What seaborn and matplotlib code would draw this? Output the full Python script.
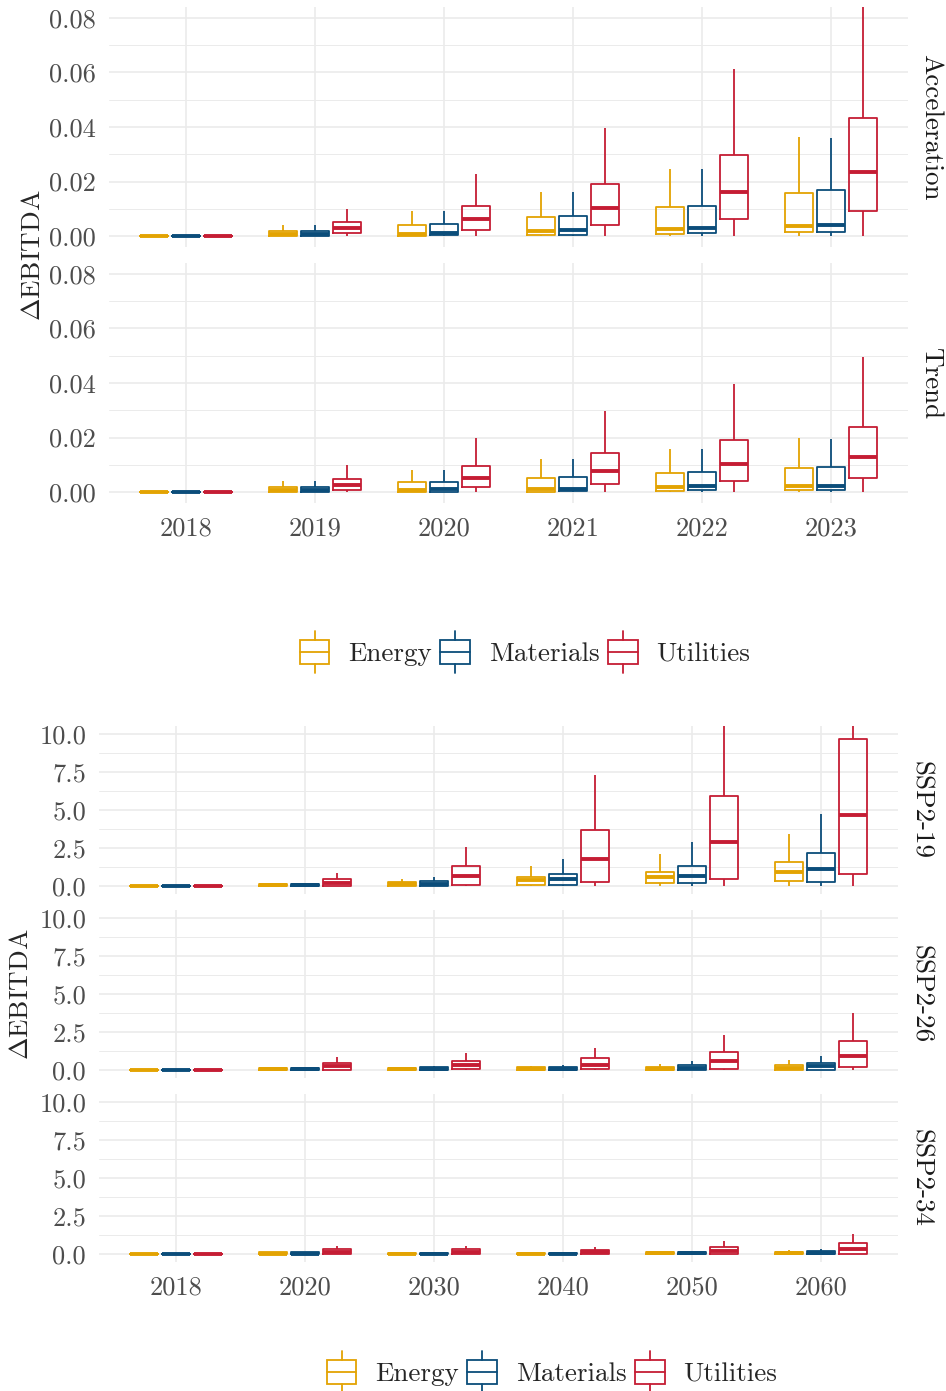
import numpy as np
import pandas as pd
import seaborn as sns
import matplotlib.pyplot as plt
from matplotlib.patches import Rectangle
from matplotlib.lines import Line2D
from matplotlib.legend_handler import HandlerBase

# years / sectors
years_top = ["2018", "2019", "2020", "2021", "2022", "2023"]
years_bot = ["2018", "2020", "2030", "2040", "2050", "2060"]
sectors = ["Energy", "Materials", "Utilities"]
colors = ["#E3A302", "#0B4D7A", "#C51D34"]

# box stats per year: [low whisker, q1, median, q3, high whisker]
acc_energy = [[0, 0, 0, 0.0001, 0.0002], [0, 0.0002, 0.0006, 0.0018, 0.0039], [0, 0.0002, 0.0009, 0.0040, 0.0092],
              [0, 0.0005, 0.0018, 0.0070, 0.0160], [0, 0.0009, 0.0027, 0.0106, 0.0247], [0, 0.0015, 0.0038, 0.0158, 0.0363]]
acc_materials = [[0, 0, 0, 0.0001, 0.0002], [0, 0.0002, 0.0008, 0.0019, 0.0039], [0, 0.0004, 0.0012, 0.0043, 0.0092],
                 [0, 0.0005, 0.0021, 0.0073, 0.0160], [0, 0.0011, 0.0028, 0.0110, 0.0245], [0, 0.0015, 0.0040, 0.0168, 0.0360]]
acc_utilities = [[0, 0, 0, 0.0001, 0.0002], [0, 0.0010, 0.0028, 0.0050, 0.0099], [0, 0.0022, 0.0061, 0.0111, 0.0229],
                 [0, 0.0039, 0.0104, 0.0192, 0.0396], [0, 0.0061, 0.0161, 0.0296, 0.0614], [0, 0.0092, 0.0236, 0.0433, 0.0950]]

trd_energy = [[0, 0, 0, 0.0001, 0.0002], [0, 0.0001, 0.0006, 0.0018, 0.0039], [0, 0.0001, 0.0009, 0.0036, 0.0080],
              [0, 0.0002, 0.0012, 0.0053, 0.0120], [0, 0.0004, 0.0018, 0.0070, 0.0159], [0, 0.0006, 0.0022, 0.0087, 0.0199]]
trd_materials = [[0, 0, 0, 0.0001, 0.0002], [0, 0.0001, 0.0009, 0.0018, 0.0039], [0, 0.0001, 0.0010, 0.0038, 0.0080],
                 [0, 0.0003, 0.0013, 0.0055, 0.0120], [0, 0.0006, 0.0021, 0.0073, 0.0159], [0, 0.0007, 0.0023, 0.0091, 0.0196]]
trd_utilities = [[0, 0, 0, 0.0001, 0.0002], [0, 0.0009, 0.0027, 0.0049, 0.0098], [0, 0.0017, 0.0052, 0.0096, 0.0199],
                 [0, 0.0028, 0.0079, 0.0145, 0.0298], [0, 0.0039, 0.0104, 0.0191, 0.0395], [0, 0.0050, 0.0130, 0.0238, 0.0494]]

s19_energy = [[0, 0, 0.01, 0.03, 0.04], [0, 0.01, 0.05, 0.13, 0.16], [0, 0.02, 0.11, 0.24, 0.44],
              [0, 0.09, 0.37, 0.62, 1.32], [0, 0.18, 0.59, 0.95, 2.10], [0, 0.31, 0.94, 1.60, 3.45]]
s19_materials = [[0, 0, 0.01, 0.03, 0.04], [0, 0.01, 0.06, 0.14, 0.20], [0, 0.01, 0.11, 0.31, 0.62],
                 [0, 0.07, 0.44, 0.81, 1.80], [0, 0.17, 0.68, 1.34, 2.90], [0, 0.27, 1.10, 2.18, 4.75]]
s19_utilities = [[0, 0, 0.01, 0.03, 0.05], [0, 0.02, 0.22, 0.44, 0.84], [0, 0.09, 0.64, 1.30, 2.58],
                 [0, 0.26, 1.76, 3.68, 7.29], [0, 0.49, 2.87, 5.95, 11.5], [0, 0.81, 4.68, 9.68, 12.0]]

s26_energy = [[0, 0, 0.01, 0.03, 0.04], [0, 0, 0.04, 0.12, 0.15], [0, 0, 0.05, 0.14, 0.20],
              [0, 0, 0.06, 0.18, 0.24], [0, 0.01, 0.08, 0.22, 0.42], [0, 0.02, 0.15, 0.35, 0.68]]
s26_materials = [[0, 0, 0.01, 0.03, 0.04], [0, 0, 0.05, 0.15, 0.20], [0, 0, 0.06, 0.18, 0.24],
                 [0, 0.01, 0.07, 0.20, 0.35], [0, 0.01, 0.10, 0.31, 0.57], [0, 0.02, 0.26, 0.46, 0.95]]
s26_utilities = [[0, 0, 0.01, 0.03, 0.05], [0, 0.02, 0.24, 0.48, 0.84], [0, 0.04, 0.33, 0.62, 1.12],
                 [0, 0.04, 0.35, 0.77, 1.43], [0, 0.07, 0.59, 1.19, 2.31], [0, 0.18, 0.95, 1.91, 3.76]]

s34_energy = [[0, 0, 0.01, 0.03, 0.04], [0, 0, 0.03, 0.10, 0.12], [0, 0, 0.03, 0.08, 0.10],
              [0, 0, 0.02, 0.06, 0.08], [0, 0, 0.05, 0.13, 0.18], [0, 0.01, 0.06, 0.15, 0.24]]
s34_materials = [[0, 0, 0.01, 0.03, 0.04], [0, 0, 0.03, 0.10, 0.15], [0, 0, 0.03, 0.08, 0.10],
                 [0, 0, 0.03, 0.08, 0.10], [0, 0, 0.05, 0.15, 0.22], [0, 0.01, 0.08, 0.20, 0.33]]
s34_utilities = [[0, 0, 0.01, 0.03, 0.05], [0, 0, 0.15, 0.33, 0.55], [0, 0.01, 0.13, 0.31, 0.53],
                 [0, 0.01, 0.13, 0.28, 0.46], [0, 0.02, 0.20, 0.44, 0.83], [0, 0.02, 0.35, 0.70, 1.31]]


def to_long(years, energy, materials, utilities):
    # 5 points per box -> quartiles land exactly on the stats, whiskers at min/max
    rows = []
    for sec, stats in zip(sectors, [energy, materials, utilities]):
        for yr, st in zip(years, stats):
            for v in st:
                rows.append((yr, sec, v))
    return pd.DataFrame(rows, columns=["year", "sector", "value"])


sns.set_theme(style="white")
plt.rcParams['font.family'] = ['cmr10', 'DejaVu Serif']
plt.rcParams['mathtext.fontset'] = 'cm'
plt.rcParams['axes.unicode_minus'] = False

W, H = 946, 1391
fig = plt.figure(figsize=(W / 100, H / 100), dpi=100)
FS = 19
TICK_COL = "#4D4D4D"
GRID_COL = "#EBEBEB"


def make_ax(left, right, top, bottom):
    return fig.add_axes([left / W, 1 - bottom / H, (right - left) / W, (bottom - top) / H])


def draw_panel(ax, df, years, ylim, major, minor, fmt, strip, show_x):
    sns.boxplot(data=df, x="year", y="value", hue="sector", order=years, hue_order=sectors,
                palette=colors, fill=False, whis=(0, 100), width=0.75, gap=0.13,
                linewidth=1.3, medianprops=dict(linewidth=2.8), showcaps=False,
                showfliers=False, legend=False, ax=ax)
    ax.set_xlim(-0.6, len(years) - 0.4)
    ax.set_ylim(*ylim)
    ax.set_yticks(major)
    ax.set_yticklabels([fmt.format(v) for v in major])
    ax.set_yticks(minor, minor=True)
    ax.grid(which="major", axis="both", color=GRID_COL, lw=1.2)
    ax.grid(which="minor", axis="y", color=GRID_COL, lw=0.7)
    ax.set_axisbelow(True)
    for sp in ax.spines.values():
        sp.set_visible(False)
    ax.tick_params(which="both", length=0, labelsize=FS, labelcolor=TICK_COL)
    ax.tick_params(axis="y", pad=9)
    ax.tick_params(axis="x", pad=10)
    ax.set_xlabel("")
    ax.set_ylabel("")
    if not show_x:
        ax.set_xticklabels([])
    ax.text(1.0 + 11 / (ax.get_position().width * W), 0.5, strip, transform=ax.transAxes,
            rotation=-90, va="center", ha="left", fontsize=FS + 0.5, color="#1A1A1A")


# top block: Acceleration / Trend
acc_df = to_long(years_top, acc_energy, acc_materials, acc_utilities)
trd_df = to_long(years_top, trd_energy, trd_materials, trd_utilities)
top_major = [0, 0.02, 0.04, 0.06, 0.08]
top_minor = [0.01, 0.03, 0.05, 0.07]
ax1 = make_ax(108.6, 908.4, 7, 247)
draw_panel(ax1, acc_df, years_top, (-0.004, 0.084), top_major, top_minor, "{:.2f}", "Acceleration", False)
ax2 = make_ax(108.6, 908.4, 263, 503)
draw_panel(ax2, trd_df, years_top, (-0.004, 0.084), top_major, top_minor, "{:.2f}", "Trend", True)
fig.text(33 / W, 1 - 255 / H, r"$\Delta$EBITDA", rotation=90, va="center", ha="center", fontsize=FS + 0.5)

# bottom block: SSP scenarios
bot_major = [0, 2.5, 5.0, 7.5, 10.0]
bot_minor = [1.25, 3.75, 6.25, 8.75]
panels = [("SSP2-19", s19_energy, s19_materials, s19_utilities, 726.4, 893.6),
          ("SSP2-26", s26_energy, s26_materials, s26_utilities, 910.4, 1077.6),
          ("SSP2-34", s34_energy, s34_materials, s34_utilities, 1094.4, 1261.6)]
for i, (name, e, m, u, t, b) in enumerate(panels):
    ax = make_ax(98.6, 898.4, t, b)
    draw_panel(ax, to_long(years_bot, e, m, u), years_bot, (-0.5, 10.5), bot_major, bot_minor,
               "{:.1f}", name, i == len(panels) - 1)
fig.text(21 / W, 1 - 994 / H, r"$\Delta$EBITDA", rotation=90, va="center", ha="center", fontsize=FS + 0.5)


class BoxHandler(HandlerBase):
    def create_artists(self, legend, orig, xdescent, ydescent, width, height, fontsize, trans):
        c = orig.get_color()
        x0, y0 = -xdescent, -ydescent
        bh = height * 1.0
        by = y0 + (height - bh) / 2
        rect = Rectangle((x0, by), width, bh, fill=False, edgecolor=c, lw=1.3, transform=trans)
        med = Line2D([x0, x0 + width], [by + bh / 2] * 2, color=c, lw=1.3, transform=trans)
        xm = x0 + width / 2
        w1 = Line2D([xm, xm], [by + bh, by + bh + height * 0.35], color=c, lw=1.3, transform=trans)
        w2 = Line2D([xm, xm], [by, by - height * 0.35], color=c, lw=1.3, transform=trans)
        return [rect, med, w1, w2]


handles = [Line2D([], [], color=c) for c in colors]
for cx, cy in [(525, 653), (552, 1373)]:
    fig.legend(handles, sectors, loc="center", bbox_to_anchor=(cx / W, 1 - cy / H), ncol=3,
               frameon=False, fontsize=FS + 0.5, handler_map={Line2D: BoxHandler()},
               handlelength=1.1, handleheight=1.0, handletextpad=0.7, columnspacing=0.3)

fig.savefig("out.png", dpi=100)
